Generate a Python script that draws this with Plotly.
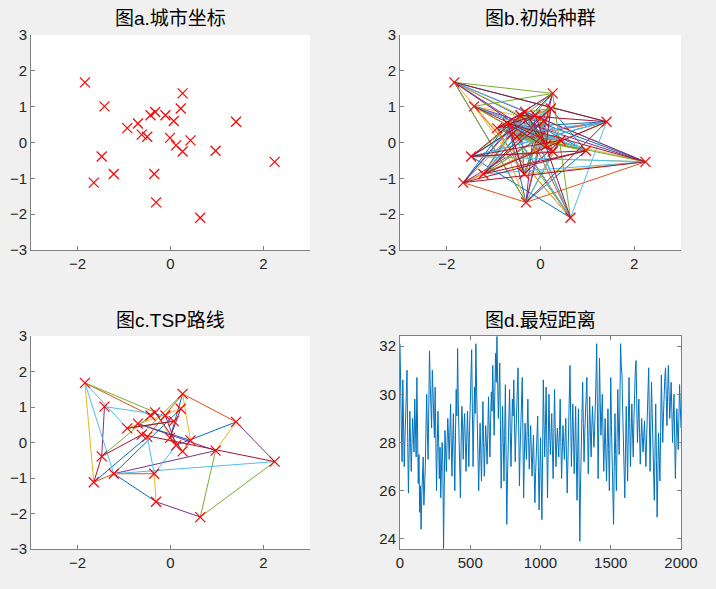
import plotly.graph_objects as go

# ---------------- data ----------------
city_x = [-1.84, -1.42, 0.26, 0.22, -0.43, -0.33, -0.11, 0.07, 1.41, -0.93,
          -0.70, -0.62, -0.50, -0.01, 0.43, 0.12, 0.26, 0.97, 2.24, -1.48,
          -1.22, -1.65, -0.35, -0.31, 0.64]
city_y = [1.68, 1.01, 1.37, 0.95, 0.76, 0.85, 0.76, 0.60, 0.58, 0.40,
          0.53, 0.22, 0.16, 0.13, 0.06, -0.08, -0.25, -0.23, -0.54, -0.39,
          -0.88, -1.12, -0.88, -1.67, -2.10]

# initial population routes (1-based city indices)
route_b1 = [1, 9, 22, 3, 12, 19, 20, 6, 25, 2, 15, 23, 8, 21, 4, 18, 10, 24, 7, 13, 17, 11, 16, 5, 14]
route_b2 = [19, 2, 17, 24, 9, 10, 3, 22, 14, 6, 18, 20, 25, 5, 1, 16, 12, 21, 8, 23, 4, 11, 15, 13, 7]
route_b3 = [22, 19, 5, 21, 3, 24, 1, 7, 20, 9, 13, 25, 11, 18, 2, 14, 23, 10, 15, 12, 4, 16, 6, 17, 8]
route_b4 = [20, 19, 1, 3, 21, 18, 24, 22, 9, 12, 25, 6, 10, 17, 2, 23, 15, 11, 14, 5, 8, 16, 13, 4, 7]
route_b5 = [12, 9, 21, 6, 19, 23, 3, 2, 18, 22, 11, 25, 1, 24, 15, 10, 7, 20, 17, 13, 8, 5, 16, 4, 14]
route_b6 = [24, 19, 10, 3, 25, 9, 1, 18, 12, 22, 6, 4, 20, 15, 2, 17, 7, 21, 14, 11, 23, 5, 13, 16, 8]
route_b7 = [3, 20, 9, 5, 22, 16, 1, 14, 21, 19, 11, 24, 8, 2, 18, 13, 25, 7, 10, 4, 23, 12, 6, 15, 17]
routes_b = [route_b1, route_b2, route_b3, route_b4, route_b5, route_b6, route_b7]

# TSP route edges (1-based)
edge_from = [9, 1, 1, 9, 1, 1, 19, 21, 3, 9, 25, 19, 1, 22, 21, 21, 24, 2, 25, 19, 20,
             22, 21, 3, 21, 20, 23, 10, 14, 3, 10, 11, 3, 23, 17, 15, 8, 6, 7, 17, 2, 14]
edge_to = [16, 5, 22, 19, 6, 21, 12, 4, 9, 18, 24, 25, 10, 20, 24, 23, 23, 20, 18, 21, 12,
           13, 22, 15, 18, 5, 13, 8, 3, 13, 4, 18, 12, 16, 6, 11, 10, 16, 16, 15, 7, 4]

# shortest distance per generation (sampled every 5 generations)
generations = list(range(0, 2001, 5))
best_dist = [
    32.1, 29.5, 28.4, 27.2, 30.6, 28.9, 27.0, 28.1, 29.5, 30.2, 31.0, 28.0, 25.9, 27.6, 29.3, 28.0, 26.8, 27.9, 29.0,
    28.3, 27.6, 29.8, 28.9, 27.4, 30.7, 28.2, 26.3, 27.5, 25.1, 26.2, 24.4, 25.8, 26.5, 27.4, 25.4, 26.1, 27.0, 28.6, 30.0,
    28.4, 27.3, 29.5, 31.8, 30.4, 29.5, 28.6, 31.0, 29.7, 29.0, 28.2, 30.3, 28.5, 26.0, 27.8, 29.3, 28.0, 26.5, 27.8, 25.7,
    26.9, 28.0, 27.1, 23.6, 26.2, 28.5, 27.6, 26.8, 28.0, 29.0, 28.3, 27.3, 28.4, 29.6, 27.9, 26.6, 28.1, 29.2, 27.7, 26.0,
    28.4, 30.2, 29.1, 31.9, 29.6, 28.2, 27.0, 25.7, 27.9, 29.5, 28.8, 27.3, 28.6, 29.2, 28.0, 26.8, 28.1, 29.3, 28.2, 27.0,
    28.5, 29.6, 30.4, 31.85, 29.4, 27.0, 28.6, 30.3, 29.2, 32.1, 30.3, 28.5, 27.3, 26.0, 27.4, 28.8, 27.5, 26.4, 28.1, 29.7,
    28.0, 26.6, 27.8, 28.7, 27.9, 27.1, 28.4, 29.9, 28.5, 27.4, 28.9, 30.1, 29.3, 31.2, 29.8, 28.3, 30.1, 31.7, 30.5, 32.4,
    30.6, 29.0, 30.2, 31.3, 28.7, 26.1, 27.7, 29.5, 28.0, 26.4, 28.3, 30.4, 27.5, 24.6, 26.5, 28.0, 29.1, 30.2, 28.5, 27.0,
    28.4, 29.8, 29.1, 30.6, 28.8, 27.2, 28.3, 29.6, 30.2, 31.1, 28.6, 26.2, 27.7, 29.0, 29.6, 30.7, 28.1, 25.7, 27.3, 28.8,
    28.0, 27.3, 28.5, 29.8, 28.2, 26.9, 27.9, 28.7, 27.5, 26.6, 27.6, 28.3, 26.8, 25.5, 26.7, 27.8, 28.4, 29.1, 27.0, 25.2,
    26.8, 28.2, 26.4, 24.8, 27.5, 30.6, 28.9, 27.4, 28.7, 30.3, 27.9, 25.7, 27.8, 30.0, 28.6, 27.5, 28.3, 29.2, 27.7, 26.5,
    28.4, 30.2, 28.5, 27.0, 27.9, 28.6, 28.0, 27.4, 28.5, 29.8, 28.0, 26.5, 27.6, 28.7, 28.0, 27.3, 28.2, 29.0, 27.4, 25.9,
    27.2, 28.3, 29.8, 31.2, 28.9, 27.0, 28.4, 29.6, 28.1, 26.7, 28.0, 29.5, 27.4, 25.6, 27.6, 29.4, 26.5, 23.9, 26.3, 28.2,
    29.3, 30.5, 28.8, 27.2, 28.4, 29.3, 30.0, 30.7, 28.6, 26.7, 28.2, 29.9, 28.5, 27.4, 28.6, 29.5, 28.6, 27.8, 28.5, 29.3,
    30.6, 32.1, 29.0, 26.5, 28.8, 31.5, 29.7, 28.3, 29.1, 30.0, 28.3, 26.8, 27.9, 29.0, 27.6, 26.4, 28.0, 29.4, 27.7, 26.0,
    28.2, 30.7, 28.7, 27.0, 25.9, 24.6, 27.0, 29.2, 27.5, 26.0, 28.0, 30.2, 28.6, 27.5, 29.6, 32.1, 31.2, 30.8, 29.3, 27.7,
    26.6, 25.7, 27.6, 29.5, 27.9, 26.4, 28.5, 30.7, 28.8, 27.0, 28.3, 29.6, 28.4, 27.4, 29.0, 30.8, 31.0, 31.4, 29.5, 28.0,
    29.0, 29.8, 28.4, 27.1, 28.1, 29.0, 28.2, 27.6, 28.3, 28.9, 27.9, 27.0, 28.1, 29.3, 30.3, 31.1, 28.9, 26.8, 28.7, 30.5,
    29.2, 27.9, 26.8, 25.6, 27.7, 29.6, 27.3, 24.9, 26.6, 28.4, 27.4, 26.4, 28.5, 30.8, 29.4, 28.0, 29.1, 30.2, 30.7, 31.1,
    29.8, 28.7, 30.0, 31.2, 30.1, 29.0, 29.7, 30.5, 29.3, 28.0, 29.1, 30.0, 28.2, 26.5, 28.0, 29.4, 28.6, 27.7, 29.0, 30.4,
    29.5, 28.6,
]

title_a = "图a.城市坐标"
title_b = "图b.初始种群"
title_c = "图c.TSP路线"
title_d = "图d.最短距离"

# ---------------- styling ----------------
matlab_colors = ["#0072BD", "#D95319", "#EDB120", "#7E2F8E", "#77AC30", "#4DBEEE", "#A2142F"]
FONT = "Liberation Sans, Arial, Noto Sans CJK SC, sans-serif"
W, H = 716, 589


def fx(px):
    return px / W


def fy(py):
    return 1 - py / H


fig = go.Figure()


def segment_traces(pairs, xa, ya):
    groups = [([], []) for _ in matlab_colors]
    for k, (a, b) in enumerate(pairs):
        gx, gy = groups[k % len(matlab_colors)]
        gx += [city_x[a - 1], city_x[b - 1], None]
        gy += [city_y[a - 1], city_y[b - 1], None]
    for ci, (gx, gy) in enumerate(groups):
        if gx:
            fig.add_trace(go.Scatter(x=gx, y=gy, mode="lines", xaxis=xa, yaxis=ya,
                                     line=dict(color=matlab_colors[ci], width=1),
                                     showlegend=False, hoverinfo="skip"))


def city_marks(xa, ya):
    fig.add_trace(go.Scatter(x=city_x, y=city_y, mode="markers", xaxis=xa, yaxis=ya,
                             marker=dict(symbol="x-thin", size=10, color="#FF0000",
                                         line=dict(color="#FF0000", width=1.2)),
                             showlegend=False))


# panel a
city_marks("x", "y")

# panel b
pairs_b = []
for r in routes_b:
    for i in range(len(r) - 1):
        pairs_b.append((r[i], r[i + 1]))
segment_traces(pairs_b, "x2", "y2")
city_marks("x2", "y2")

# panel c
segment_traces(list(zip(edge_from, edge_to)), "x3", "y3")
city_marks("x3", "y3")

# panel d
fig.add_trace(go.Scatter(x=generations, y=best_dist, mode="lines", xaxis="x4", yaxis="y4",
                         line=dict(color="#0072BD", width=1), showlegend=False))

axis_common = dict(showgrid=False, zeroline=False, showline=True, linecolor="#808080",
                   linewidth=1, ticks="inside", ticklen=4, tickcolor="#808080", automargin=False,
                   tickfont=dict(family=FONT, size=15, color="#262626"))

doms = {
    "a": ([fx(31), fx(310)], [fy(250), fy(35)]),
    "b": ([fx(400), fx(681)], [fy(250), fy(35)]),
    "c": ([fx(31), fx(310)], [fy(549), fy(336)]),
    "d": ([fx(400), fx(681)], [fy(549), fy(336)]),
}

layout = dict(width=W, height=H, autosize=False, paper_bgcolor="#F0F0F0", plot_bgcolor="#FFFFFF",
              margin=dict(l=0, r=0, t=0, b=0, pad=0, autoexpand=False), showlegend=False)

for key, xn, yn, ax, ay in [("a", "xaxis", "yaxis", "y", "x"),
                            ("b", "xaxis2", "yaxis2", "y2", "x2"),
                            ("c", "xaxis3", "yaxis3", "y3", "x3")]:
    xd, yd = doms[key]
    layout[xn] = dict(axis_common, domain=xd, range=[-3, 3], tickvals=[-2, 0, 2],
                      anchor=ax, mirror=False)
    layout[yn] = dict(axis_common, domain=yd, range=[-3, 3], tickvals=[-3, -2, -1, 0, 1, 2, 3],
                      anchor=ay, mirror=False)

xd, yd = doms["d"]
layout["xaxis4"] = dict(axis_common, domain=xd, range=[0, 2000], tickvals=[0, 500, 1000, 1500, 2000],
                        anchor="y4", mirror="ticks")
layout["yaxis4"] = dict(axis_common, domain=yd, range=[23.58, 32.42], tickvals=[24, 26, 28, 30, 32],
                        anchor="x4", mirror="ticks")

fig.update_layout(**layout)

titles = [(title_a, (31 + 310) / 2, 19), (title_b, (400 + 681) / 2, 19),
          (title_c, (31 + 310) / 2, 320), (title_d, (400 + 681) / 2, 320)]
for t, px, py in titles:
    fig.add_annotation(text=t, x=fx(px), y=fy(py), xref="paper", yref="paper",
                       showarrow=False, xanchor="center", yanchor="middle",
                       font=dict(family=FONT, size=19, color="#000000"))

fig.write_html("out.html", config={"displayModeBar": False, "responsive": False},
               default_width="716px", default_height="589px")

with open("out.html", "r", encoding="utf-8") as f:
    html = f.read()
html = html.replace("<head>", "<head><style>html,body{margin:0;padding:0;overflow:hidden;}</style>", 1)
with open("out.html", "w", encoding="utf-8") as f:
    f.write(html)
